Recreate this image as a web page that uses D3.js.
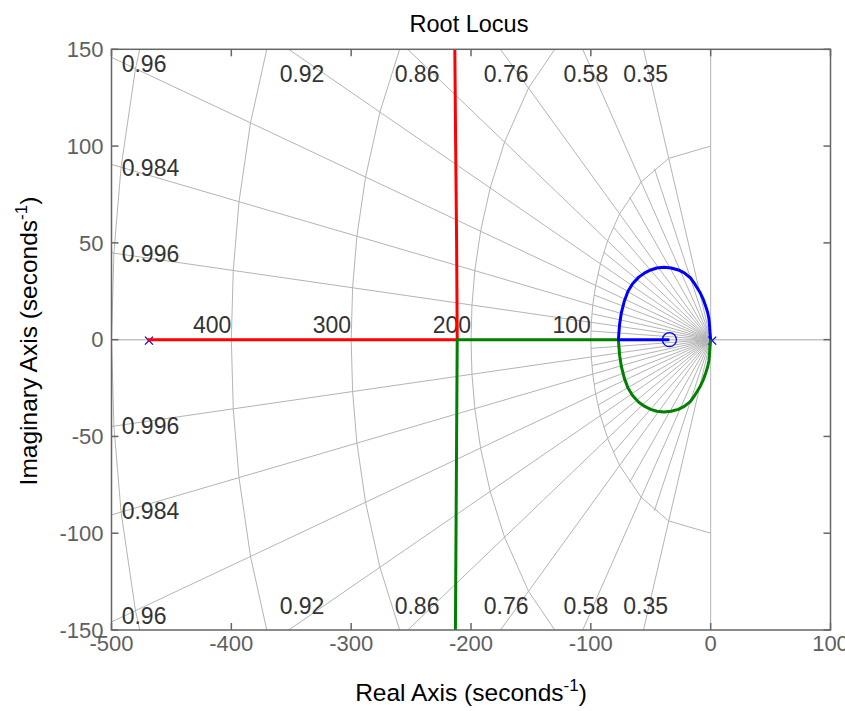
<!DOCTYPE html>
<html><head><meta charset="utf-8">
<script src="https://cdn.jsdelivr.net/npm/d3@7/dist/d3.min.js"></script>
<style>
html,body{margin:0;padding:0;background:#fff;}
svg text{font-family:"Liberation Sans",Arial,Helvetica,sans-serif;}
</style></head><body>
<svg id="chart" width="845" height="711"></svg>
<script>
// ---- data ----
const xTickValues = [-500,-400,-300,-200,-100,0,100];
const yTickValues = [-150,-100,-50,0,50,100,150];
const zetaValues = [0.35,0.58,0.76,0.86,0.92,0.96,0.984,0.996];
const zetaLabels = ["0.35","0.58","0.76","0.86","0.92","0.96","0.984","0.996"];
const zetaLabelX = [-54.2,-104.2,-170.7,-245,-341,-491.5,-491.5,-491.5];
const zetaLabelY = [137.5,137.5,137.5,137.5,137.5,142.7,88.6,44.6];
const zetaFine = [0.999,0.991,0.973,0.941,0.892,0.813,0.676,0.469];
const wnValues = [100,200,300,400,500];
const wnLabels = ["100","200","300","400"];

const blueX = [0,-0.6,-1,-1.5,-2.5,-4,-6,-9,-13,-17,-22,-27,-33,-39,-45,-50,-55,-60,-65,-69,-72,-74.5,-76,-77,-34.4];
const blueY = [0,4,8,11,14,17,20.5,24.5,28.5,32,34.5,36,37,37.4,37,36,34.5,32.3,29,25,20,14,8,0,0];
const greenX = [0,-0.6,-1,-1.5,-2.5,-4,-6,-9,-13,-17,-22,-27,-33,-39,-45,-50,-55,-60,-65,-69,-72,-74.5,-76,-77,-211.5,-212,-212.5,-213];
const greenY = [0,-4,-8,-11,-14,-17,-20.5,-24.5,-28.5,-32,-34.5,-36,-37,-37.4,-37,-36,-34.5,-32.3,-29,-25,-20,-14,-8,0,0,-50,-100,-150];
const redX = [-470,-211.5,-212,-212.8,-213.5];
const redY = [0,0,50,100,150];
const poleX = [0,-470], poleY = [0,0];
const zeroX = [-34.4], zeroY = [0];

// ---- layout ----
const L=111.5, R=830.5, T=49.3, B=630;
const x = d3.scaleLinear().domain([-500,100]).range([L,R]);
const y = d3.scaleLinear().domain([-150,150]).range([B,T]);
const svg = d3.select('#chart');

svg.append('defs').append('clipPath').attr('id','clip')
  .append('rect').attr('x',L).attr('y',T).attr('width',R-L).attr('height',B-T);

const gridColor = '#b4b4b4';
const grid = svg.append('g').attr('clip-path','url(#clip)');
const line = d3.line().x(d=>x(d[0])).y(d=>y(d[1]));

// axes through origin
grid.append('path').attr('d', line([[-500,0],[100,0]])).attr('stroke','#c4c4c4').attr('stroke-width',1.5).attr('fill','none');
grid.append('path').attr('d', line([[0,-150],[0,150]])).attr('stroke',gridColor).attr('stroke-width',1).attr('fill','none');

// damping rays
zetaValues.forEach(z=>{
  const s=Math.sqrt(1-z*z);
  [1,-1].forEach(sg=>{
    grid.append('path').attr('d', line([[0,0],[-700*z, sg*700*s]]))
      .attr('stroke',gridColor).attr('stroke-width',1).attr('fill','none');
  });
});
zetaFine.forEach(z=>{
  const s=Math.sqrt(1-z*z);
  [1,-1].forEach(sg=>{
    grid.append('path').attr('d', line([[0,0],[-100*z, sg*100*s]]))
      .attr('stroke',gridColor).attr('stroke-width',1).attr('fill','none');
  });
});

// natural frequency circles (polylines through ray angles)
const angs = zetaValues.map(z=>Math.acos(z));
const thetaList = [-Math.PI/2, ...angs.map(a=>-a), 0, ...angs, Math.PI/2];
const thetaSorted = Array.from(new Set(thetaList)).sort((a,b)=>a-b);
wnValues.forEach(wn=>{
  const pts = thetaSorted.map(t=>[-wn*Math.cos(t), wn*Math.sin(t)]);
  grid.append('path').attr('d', line(pts)).attr('stroke',gridColor).attr('stroke-width',1).attr('fill','none');
});

// grid labels
const labG = svg.append('g').attr('fill','#333').attr('font-size','23px');
zetaLabels.forEach((t,i)=>{
  const anchor = i<5 ? 'middle' : 'start';
  [1,-1].forEach(sg=>{
    labG.append('text').attr('x', x(zetaLabelX[i])).attr('y', y(sg*zetaLabelY[i]))
      .attr('dy','0.36em').attr('text-anchor',anchor).text(t);
  });
});
wnLabels.forEach((t,i)=>{
  labG.append('text').attr('x', x(-wnValues[i])).attr('y', y(0)-7)
    .attr('text-anchor','end').text(t);
});

// locus
const loc = svg.append('g').attr('clip-path','url(#clip)');
poleX.forEach((px,i)=>{
  const cx=x(px)+1.5, cy=y(poleY[i])+1, r=4;
  loc.append('path').attr('d',`M${cx-r},${cy-r}L${cx+r},${cy+r}M${cx-r},${cy+r}L${cx+r},${cy-r}`)
    .attr('stroke','#0000ff').attr('stroke-width',1.3).attr('fill','none');
});
const mk = (X,Y)=>X.map((v,i)=>[v,Y[i]]);
loc.append('path').attr('d',line(mk(redX,redY))).attr('stroke','#ff0000').attr('stroke-width',3).attr('fill','none').attr('stroke-linejoin','round');
loc.append('path').attr('d',line(mk(greenX,greenY))).attr('stroke','#008000').attr('stroke-width',3).attr('fill','none').attr('stroke-linejoin','round');
loc.append('path').attr('d',line(mk(blueX,blueY))).attr('stroke','#0000ff').attr('stroke-width',3).attr('fill','none').attr('stroke-linejoin','round');
zeroX.forEach((zx,i)=>{
  loc.append('circle').attr('cx',x(zx)).attr('cy',y(zeroY[i])).attr('r',7)
    .attr('stroke','#0000ff').attr('stroke-width',1.3).attr('fill','none');
});

// axes box and ticks
const axisColor = '#666';
const tickLen = 7;
const ax = svg.append('g').attr('stroke',axisColor).attr('stroke-width',1.5).attr('fill','none');
ax.append('rect').attr('x',L).attr('y',T).attr('width',R-L).attr('height',B-T);
xTickValues.forEach(v=>{
  ax.append('line').attr('x1',x(v)).attr('x2',x(v)).attr('y1',B).attr('y2',B-tickLen);
  ax.append('line').attr('x1',x(v)).attr('x2',x(v)).attr('y1',T).attr('y2',T+tickLen);
});
yTickValues.forEach(v=>{
  ax.append('line').attr('x1',L).attr('x2',L+tickLen).attr('y1',y(v)).attr('y2',y(v));
  ax.append('line').attr('x1',R).attr('x2',R-tickLen).attr('y1',y(v)).attr('y2',y(v));
});

const tl = svg.append('g').attr('fill','#5f5f5f').attr('font-size','22px');
xTickValues.forEach(v=>{
  tl.append('text').attr('x',x(v)).attr('y',651).attr('text-anchor','middle').text(String(v));
});
yTickValues.forEach(v=>{
  tl.append('text').attr('x',103.5).attr('y',y(v)).attr('dy','0.35em').attr('text-anchor','end').text(String(v));
});

// titles
svg.append('text').attr('x',(L+R)/2 - 2).attr('y',31.5).attr('text-anchor','middle')
  .attr('font-size','23.5px').attr('fill','#000').text('Root Locus');

const xt = svg.append('text').attr('x',(L+R)/2).attr('y',701).attr('text-anchor','middle')
  .attr('font-size','24.5px').attr('fill','#000');
xt.append('tspan').text('Real Axis (seconds');
xt.append('tspan').attr('dy','-10').attr('font-size','17px').text('-1');
xt.append('tspan').attr('dy','10').text(')');

const yt = svg.append('text').attr('transform','translate(37,341) rotate(-90)').attr('text-anchor','middle')
  .attr('font-size','24.5px').attr('fill','#000');
yt.append('tspan').text('Imaginary Axis (seconds');
yt.append('tspan').attr('dy','-10').attr('font-size','17px').text('-1');
yt.append('tspan').attr('dy','10').text(')');
</script>
</body></html>
